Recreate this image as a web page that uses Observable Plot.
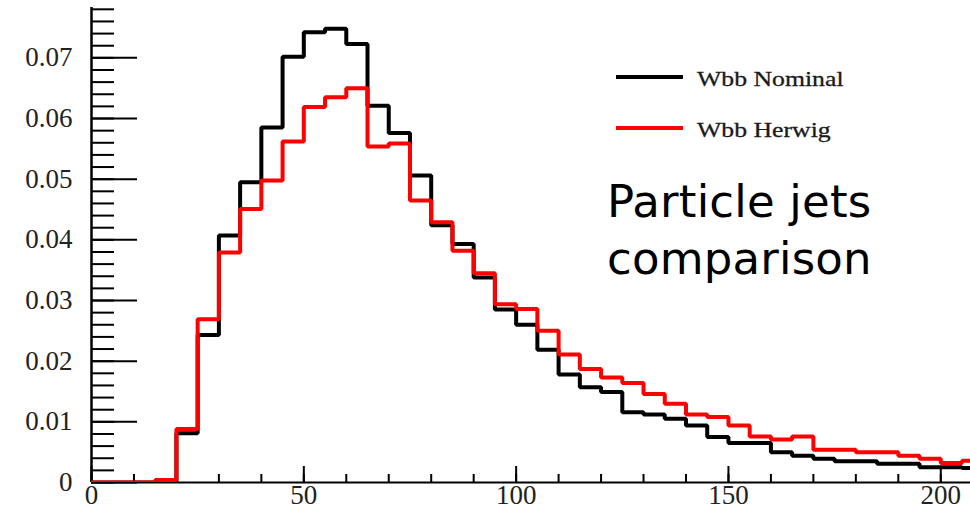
<!DOCTYPE html>
<html>
<head>
<meta charset="utf-8">
<script src="https://cdn.jsdelivr.net/npm/d3@7"></script>
<script src="https://cdn.jsdelivr.net/npm/@observablehq/plot@0.6"></script>
<style>
  html, body { margin: 0; padding: 0; background: #fff; }
  #wrap { position: relative; width: 970px; height: 513px; overflow: hidden; }
  #wrap svg { display: block; }
  .legend { position: absolute; left: 616px; top: 51px; font-family: "Liberation Serif", serif; font-size: 22px; color: #1a1a1a; }
  .legend .row { display: flex; align-items: center; height: 51px; }
  .legend .swatch { width: 67px; height: 4px; margin-right: 14px; }
  .legend .name { display: inline-block; transform: scaleX(1.17); transform-origin: left center; margin-top: 5px; -webkit-text-stroke: 0.3px #1a1a1a; }
  .caption { position: absolute; left: 607px; top: 173px; font-family: "DejaVu Sans", sans-serif; font-size: 45px; line-height: 57px; letter-spacing: 0.2px; color: #000; white-space: nowrap; }
</style>
</head>
<body>
<div id="wrap"></div>
<script>
// Bin lower edges (GeV), 5 GeV wide
const binEdges = d3.range(0, 210, 5);
const binWidth = 5;

// Normalised jet distributions per bin
const nominal = [
  0, 0, 0, 0, 0.0081, 0.0243, 0.0407, 0.0495, 0.0585, 0.0702,
  0.0742, 0.0748, 0.0723, 0.0621, 0.0576, 0.0506, 0.0424, 0.0393, 0.0338, 0.0285,
  0.0260, 0.0219, 0.0178, 0.0157, 0.0149, 0.0116, 0.0112, 0.0105, 0.0094, 0.0075,
  0.0065, 0.0065, 0.0050, 0.0044, 0.0039, 0.0035, 0.0035, 0.0031, 0.0031, 0.0025,
  0.0025, 0.0024
];
const herwig = [
  0, 0, 0, 0.0004, 0.0088, 0.0269, 0.0379, 0.0451, 0.0498, 0.0562,
  0.0619, 0.0635, 0.0650, 0.0554, 0.0559, 0.0465, 0.0429, 0.0382, 0.0345, 0.0294,
  0.0286, 0.0250, 0.0211, 0.0187, 0.0173, 0.0164, 0.0146, 0.0130, 0.0112, 0.0108,
  0.0094, 0.0076, 0.0071, 0.0076, 0.0054, 0.0054, 0.0050, 0.0050, 0.0044, 0.0039,
  0.0032, 0.0036
];

const seriesNames = ["Wbb Nominal", "Wbb Herwig"];
const seriesColors = ["#000000", "#ff0000"];

// Axis ticks
const xMajor = [0, 50, 100, 150, 200];
const xMinor = d3.range(0, 210, 10);
const yMajor = [0, 0.01, 0.02, 0.03, 0.04, 0.05, 0.06, 0.07];
const yMinor = d3.range(0, 0.0781, 0.002);
const yTickLabels = ["0", "0.01", "0.02", "0.03", "0.04", "0.05", "0.06", "0.07"];

// Step outline: one point per bin start plus the closing edge
function steps(values) {
  const pts = binEdges.map((x, i) => ({x, y: values[i]}));
  pts.push({x: binEdges[binEdges.length - 1] + binWidth, y: values[values.length - 1]});
  return pts;
}

const labelFont = {fontFamily: "Liberation Serif, serif", fontSize: 27, fill: "#222"};

const chart = Plot.plot({
  width: 970,
  height: 513,
  marginLeft: 91,
  marginRight: 0,
  marginTop: 7,
  marginBottom: 31,
  x: {domain: [0, 207], axis: null},
  y: {domain: [0, 0.0783], axis: null},
  marks: [
    // minor and major ticks, pointing inward
    Plot.axisY({ticks: yMinor, tickSize: -23, text: null, label: null, strokeWidth: 2, stroke: "#000"}),
    Plot.axisY({ticks: yMajor, tickSize: -46, text: null, label: null, strokeWidth: 2, stroke: "#000"}),
    Plot.axisY({ticks: yMajor, tickSize: 0, tickPadding: 19, label: null, tickFormat: (d, i) => yTickLabels[i], ...labelFont}),
    Plot.axisX({ticks: xMinor, tickSize: -8, text: null, label: null, strokeWidth: 2, stroke: "#000"}),
    Plot.axisX({ticks: xMajor, tickSize: 0, tickPadding: 2, label: null, tickFormat: d => String(d), ...labelFont}),
    Plot.axisX({ticks: xMajor, tickSize: -16, text: null, label: null, strokeWidth: 2, stroke: "#000"}),
    Plot.ruleX([0], {stroke: "#000", strokeWidth: 2.5}),
    Plot.ruleY([0], {stroke: "#000", strokeWidth: 2}),
    Plot.line(steps(nominal), {x: "x", y: "y", curve: "step-after", stroke: seriesColors[0], strokeWidth: 4, strokeLinejoin: "miter", clip: true}),
    Plot.line(steps(herwig), {x: "x", y: "y", curve: "step-after", stroke: seriesColors[1], strokeWidth: 4, strokeLinejoin: "miter", clip: true})
  ]
});

const wrap = document.getElementById("wrap");
wrap.appendChild(chart);

// Legend
const legend = document.createElement("div");
legend.className = "legend";
seriesNames.forEach((name, i) => {
  const row = document.createElement("div");
  row.className = "row";
  const sw = document.createElement("span");
  sw.className = "swatch";
  sw.style.background = seriesColors[i];
  const label = document.createElement("span");
  label.className = "name";
  label.textContent = name;
  row.appendChild(sw);
  row.appendChild(label);
  legend.appendChild(row);
});
wrap.appendChild(legend);

// Caption
const caption = document.createElement("div");
caption.className = "caption";
caption.innerHTML = "Particle jets<br>comparison";
wrap.appendChild(caption);
</script>
</body>
</html>
